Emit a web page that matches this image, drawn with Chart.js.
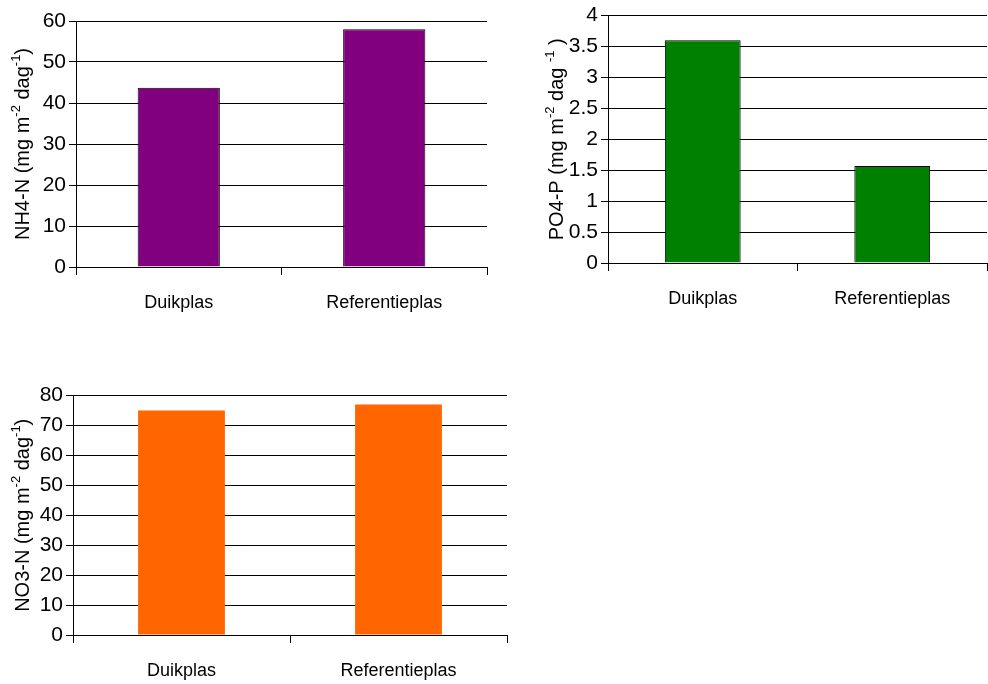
<!DOCTYPE html>
<html>
<head>
<meta charset="UTF-8">
<title>Duikplas vs Referentieplas</title>
<script src="https://cdn.jsdelivr.net/npm/chart.js@4/dist/chart.umd.min.js"></script>
<style>
  body { margin: 0; background: #fff; }
  .box { position: absolute; }
</style>
</head>
<body>
<div class="box" style="left:0;top:0"><canvas id="nh4" width="495" height="320"></canvas></div>
<div class="box" style="left:530px;top:0"><canvas id="po4" width="458" height="320"></canvas></div>
<div class="box" style="left:0;top:380px"><canvas id="no3" width="520" height="304"></canvas></div>

<script>
  // data
  const categories = ['Duikplas', 'Referentieplas'];
  const nh4Values = [43.7, 58.0];
  const po4Values = [3.6, 1.57];
  const no3Values = [75, 77];
  const nh4Axis = { max: 60, step: 10 };
  const po4Axis = { max: 4, step: 0.5 };
  const no3Axis = { max: 80, step: 10 };
  // axis titles, [text, isSuperscript]
  const nh4Title = [['NH4-N (mg m', 0], ['-2', 1], [' dag', 0], ['-1', 1], [')', 0]];
  const po4Title = [['PO4-P (mg m', 0], ['-2', 1], [' dag ', 0], ['-1', 1], [' )', 0]];
  const no3Title = [['NO3-N (mg m', 0], ['-2', 1], [' dag', 0], ['-1', 1], [')', 0]];

  const fontFam = "'Liberation Sans', Arial, sans-serif";

  // draws the rotated y title with real superscripts
  const yTitlePlugin = {
    id: 'yTitle',
    afterDraw(chart, args, opts) {
      const ctx = chart.ctx, area = chart.chartArea;
      const big = '20px ' + fontFam, small = '13px ' + fontFam;
      let total = 0;
      opts.parts.forEach(p => { ctx.font = p[1] ? small : big; total += ctx.measureText(p[0]).width; });
      ctx.save();
      ctx.translate(opts.x, (area.top + area.bottom) / 2);
      ctx.rotate(-Math.PI / 2);
      ctx.fillStyle = '#000';
      ctx.textBaseline = 'middle';
      let x = -total / 2;
      opts.parts.forEach(p => {
        ctx.font = p[1] ? small : big;
        ctx.fillText(p[0], x, p[1] ? -7 : 0);
        x += ctx.measureText(p[0]).width;
      });
      ctx.restore();
    }
  };

  function makeChart(id, values, color, border, axis, title, box) {
    new Chart(id, {
      type: 'bar',
      data: {
        labels: categories,
        datasets: [{
          data: values,
          backgroundColor: color,
          borderColor: border ? '#000' : color,
          borderWidth: border ? 1 : 0,
          barPercentage: 0.4,
          categoryPercentage: 1
        }]
      },
      options: {
        responsive: false,
        animation: false,
        layout: { padding: { top: box.top, right: box.right, left: 0, bottom: 0 } },
        plugins: {
          legend: { display: false },
          tooltip: { enabled: false },
          yTitle: { parts: title, x: box.titleX }
        },
        scales: {
          x: {
            offset: true,
            grid: { offset: true, drawOnChartArea: false, color: '#000', tickLength: 8 },
            border: { color: '#000' },
            ticks: { color: '#000', padding: 17, font: { family: fontFam, size: 18 } },
            afterFit: s => { s.height = box.xh; }
          },
          y: {
            min: 0,
            max: axis.max,
            grid: { color: '#000', tickLength: 7 },
            border: { color: '#000' },
            ticks: {
              stepSize: axis.step, color: '#000', padding: 3,
              font: { family: fontFam, size: 21 },
              callback: v => String(Math.round(v * 100) / 100)
            },
            afterFit: s => { s.width = box.yw; }
          }
        }
      },
      plugins: [yTitlePlugin]
    });
  }

  makeChart('nh4', nh4Values, '#800080', true, nh4Axis, nh4Title,
    { top: 21, right: 8, yw: 76, xh: 53, titleX: 23 });
  makeChart('po4', po4Values, '#008000', true, po4Axis, po4Title,
    { top: 14, right: 1, yw: 78, xh: 57, titleX: 27 });
  makeChart('no3', no3Values, '#FF6600', false, no3Axis, no3Title,
    { top: 13, right: 13, yw: 73, xh: 49, titleX: 23 });
</script>
</body>
</html>
